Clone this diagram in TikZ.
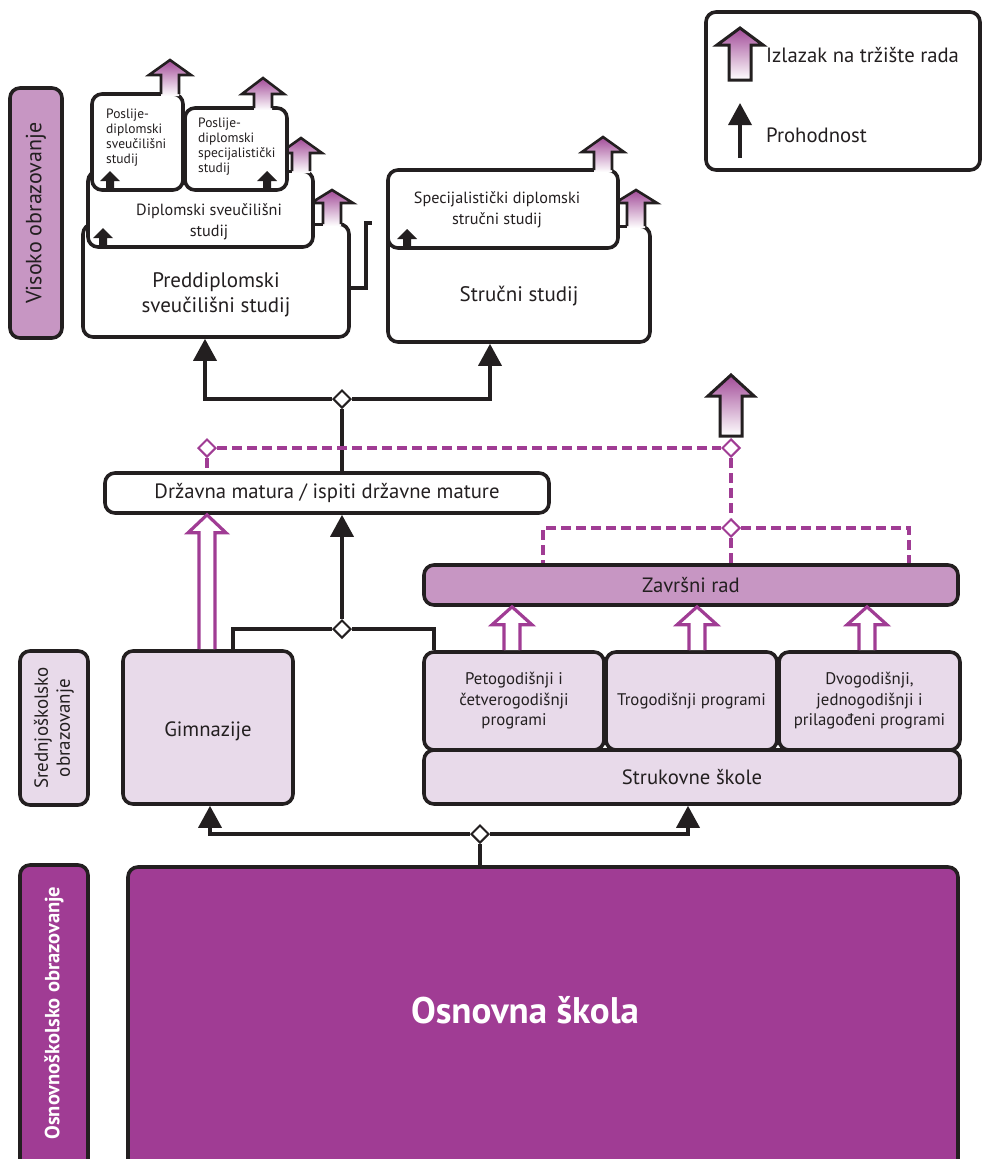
\documentclass[tikz,border=0pt]{standalone}
\usepackage{fontspec}
\setmainfont{PT Sans}
\usetikzlibrary{arrows.meta,shapes.geometric,calc}
\definecolor{ink}{HTML}{231F20}
\definecolor{dpurple}{HTML}{A03C94}
\definecolor{mpurple}{HTML}{C796C3}
\definecolor{lpurple}{HTML}{E8DAEA}
\definecolor{apurple}{HTML}{A24B98}
\tikzset{
 box/.style={draw=ink, line width=3.6pt, rounded corners=10pt, fill=white, inner sep=0pt, align=center, text=ink},
 lab/.style={align=center, text=ink, inner sep=0pt},
 conn/.style={draw=ink, line width=3.6pt},
 prog/.style={-{Triangle[width=23pt,length=22pt]}},
 dia/.style={shape=diamond, draw=ink, fill=white, line width=2pt, minimum size=18pt, inner sep=0pt},
 pdia/.style={dia, draw=dpurple},
 pdash/.style={draw=dpurple, line width=3.6pt, dash pattern=on 10pt off 5pt},
 hollow/.style={draw=dpurple, fill=white, line width=3.2pt},
 tab/.style={draw=ink, fill=white, line width=2.6pt},
 fA/.style={font=\fontsize{13.5}{15}\selectfont},
 fB/.style={font=\fontsize{16.8}{20.5}\selectfont},
 fBd/.style={font=\fontsize{16.2}{21}\selectfont},
 fC/.style={font=\fontsize{20.7}{24}\selectfont},
 fD/.style={font=\fontsize{21}{25}\selectfont},
}
\newcommand\exitopen[4]{%
 \shade[top color=apurple, bottom color=white] ({#1-9},{#4+2}) -- ({#1-9},#3) -- ({#1-21},#3) -- (#1,#2) -- ({#1+21},#3) -- ({#1+9},#3) -- ({#1+9},{#4+2}) -- cycle;
 \draw[ink, line width=2.6pt] ({#1-9},#4) -- ({#1-9},#3) -- ({#1-21},#3) -- (#1,#2) -- ({#1+21},#3) -- ({#1+9},#3) -- ({#1+9},#4);}
\newcommand\exitclosed[4]{%
 \draw[ink, line width=3pt, top color=apurple, bottom color=white] ({#1-11},#4) -- ({#1-11},#3) -- ({#1-23},#3) -- (#1,#2) -- ({#1+23},#3) -- ({#1+11},#3) -- ({#1+11},#4) -- cycle;}
\newcommand\blockup[2]{%
 \fill[ink] ({#1-4},#2) -- ({#1-4},{#2-9}) -- ({#1-10},{#2-9}) -- (#1,{#2-19}) -- ({#1+10},{#2-9}) -- ({#1+4},{#2-9}) -- ({#1+4},#2) -- cycle;}
\newcommand\hollowup[3]{%
 \draw[hollow] ($(#1)+(-8,0)$) -- ($(#1|-#2)+(-8,18)$) -- ($(#1|-#2)+(-#3,18)$) -- (#1|-#2) -- ($(#1|-#2)+(#3,18)$) -- ($(#1|-#2)+(8,18)$) -- ($(#1)+(8,0)$);}
\begin{document}
\begin{tikzpicture}[x=1pt,y=-1pt]
\useasboundingbox (0,0) rectangle (983,1159);

% ---------- side labels ----------
\node[box, fill=mpurple, minimum width=250pt, minimum height=52pt, rotate=90, font=\fontsize{22}{24}\selectfont] (vis) at (36,213) {Visoko obrazovanje};
\node[box, fill=lpurple, minimum width=154pt, minimum height=68pt, rotate=90, font=\fontsize{19}{22}\selectfont] (sred) at (54,728) {Srednjoškolsko\\obrazovanje};
\node[box, fill=dpurple, minimum width=310pt, minimum height=68pt, rotate=90, text=white, font=\fontsize{20.5}{22}\selectfont\bfseries] (osnside) at (54,1020) {\hspace*{14pt}Osnovnoškolsko obrazovanje};

% ---------- legend ----------
\node[box, minimum width=274pt, minimum height=158pt] (leg) at (843,91) {};
\exitclosed{740}{28}{45}{80}
\node[lab, anchor=west, fC] (legT1) at (766,55) {Izlazak na tržište rada};
\coordinate (lgA) at (740,158);
\coordinate (lgB) at (740,103);
\draw[conn, prog] (lgA) -- (lgB);
\node[lab, anchor=west, fC] (legT2) at (766,135) {Prohodnost};

% ---------- higher education ----------
\node[box, minimum width=266pt, minimum height=113pt] (pred) at (216,280.5) {};
\node[lab, fD] (predT) at (216,295) {Preddiplomski\\sveučilišni studij};
\node[tab, minimum width=10pt, minimum height=21pt, inner sep=0pt] (tab1) at (318,213.5) {};
\exitopen{332}{190}{203}{224}

\node[box, minimum width=225pt, minimum height=76pt] (dipl) at (200.5,209) {};
\node[lab, fBd] (diplT) at (209,222) {Diplomski sveučilišni\\studij};
\blockup{103}{247}
\node[tab, minimum width=6pt, minimum height=18pt, inner sep=0pt] (tab2) at (289.5,162) {};
\exitopen{301}{138}{153}{171}

\node[box, minimum width=91pt, minimum height=96pt] (psv) at (137.5,142) {};
\node[lab, fA, anchor=west, align=left] (psvT) at (106,138) {Poslije-\\diplomski\\sveučilišni\\studij};
\blockup{110}{190}
\exitopen{170}{60}{75}{94}

\node[box, minimum width=102pt, minimum height=82pt] (psp) at (236,149) {};
\node[lab, fA, anchor=west, align=left] (pspT) at (198,147) {Poslije-\\diplomski\\specijalistički\\studij};
\blockup{267}{190}
\exitopen{263}{78}{94}{108}

\node[box, minimum width=262pt, minimum height=116pt] (stru) at (519,284) {};
\node[lab, fD] (struT) at (519,296) {Stručni studij};
\node[tab, minimum width=9pt, minimum height=23pt, inner sep=0pt] (tab3) at (622.5,214.5) {};
\exitopen{636}{190}{203}{226}

\node[box, minimum width=230pt, minimum height=78pt] (spec) at (503,209) {};
\node[lab, fBd] (specT) at (497,210) {Specijalistički diplomski\\stručni studij};
\blockup{407}{248}
\exitopen{603}{137}{152}{170}

\coordinate (pfree) at (372,223);
\draw[conn] ([yshift=-7.5pt]pred.east) -- ++(15,0) |- (pfree);

% ---------- matura ----------
\node[box, minimum width=444pt, minimum height=40pt, fC] (drz) at (327,493) {Državna matura / ispiti državne mature};
\node[dia] (dtop) at (342,399) {};
\draw[conn] (dtop |- drz.north) -- (dtop.south);
\draw[conn, prog] (dtop.west) -| ([xshift=-11pt]pred.south);
\draw[conn, prog] (dtop.east) -| ([xshift=-29pt]stru.south);

% ---------- zavrsni rad ----------
\node[box, fill=mpurple, minimum width=534pt, minimum height=40pt, fC] (zav) at (691,585) {Završni rad};
\exitclosed{731}{375}{396}{436}
\node[pdia] (pdL) at (207,448) {};
\node[pdia] (pdR) at (731,448) {};
\node[pdia] (pdM) at (731,528) {};
\draw[pdash] (pdL.south) -- (pdL |- drz.north);
\draw[pdash] (pdL.east) -- (pdR.west);
\draw[pdash] (pdR.south) -- (pdM.north);
\draw[pdash] (pdM.west) -| ([xshift=-148pt]zav.north);
\draw[pdash] (pdM.east) -| ([xshift=218pt]zav.north);
\draw[pdash] (pdM.south) -- (pdM |- zav.north);

% ---------- secondary ----------
\node[box, fill=lpurple, minimum width=170pt, minimum height=153pt, fC] (gim) at (208,727.5) {\raisebox{-9pt}[0pt][0pt]{Gimnazije}};
\node[box, fill=lpurple, minimum width=536pt, minimum height=54pt, fC] (struk) at (692,777) {Strukovne škole};
\node[box, fill=lpurple, minimum width=180pt, minimum height=98pt, fB] (p1) at (514,701) {Petogodišnji i\\četverogodišnji\\programi};
\node[box, fill=lpurple, minimum width=171pt, minimum height=98pt, fB] (p2) at (691.5,701) {Trogodišnji programi};
\node[box, fill=lpurple, minimum width=181pt, minimum height=98pt, fB] (p3) at (869.5,701) {Dvogodišnji,\\jednogodišnji i\\prilagođeni programi};

\coordinate (hb0) at ([xshift=-1pt]gim.north);
\coordinate (hb1) at ([xshift=-2pt]p1.north);
\coordinate (hb2) at ([xshift=5.5pt]p2.north);
\coordinate (hb3) at ([xshift=-2.5pt]p3.north);
\hollowup{hb0}{drz.south}{19}
\hollowup{hb1}{zav.south}{20}
\hollowup{hb2}{zav.south}{20}
\hollowup{hb3}{zav.south}{20}

\node[dia] (dmid) at (342,629) {};
\draw[conn] ([xshift=25pt]gim.north) |- (dmid.west);
\draw[conn] (dmid.east) -| ([xshift=-80pt]p1.north);
\draw[conn, prog] (dmid.north) -- (dmid |- drz.south);

% ---------- primary ----------
\node[box, fill=dpurple, minimum width=830pt, minimum height=308pt] (osn) at (543,1021) {};
\node[lab, text=white, font=\fontsize{37}{40}\selectfont\bfseries] (osnT) at (525,1010) {Osnovna škola};
\node[dia] (dbot) at (480,834) {};
\draw[conn] (dbot.south) -- (dbot |- osn.north);
\draw[conn, prog] (dbot.west) -| ([xshift=2pt]gim.south);
\draw[conn, prog] (dbot.east) -| ([xshift=-4pt]struk.south);
\end{tikzpicture}
\end{document}
